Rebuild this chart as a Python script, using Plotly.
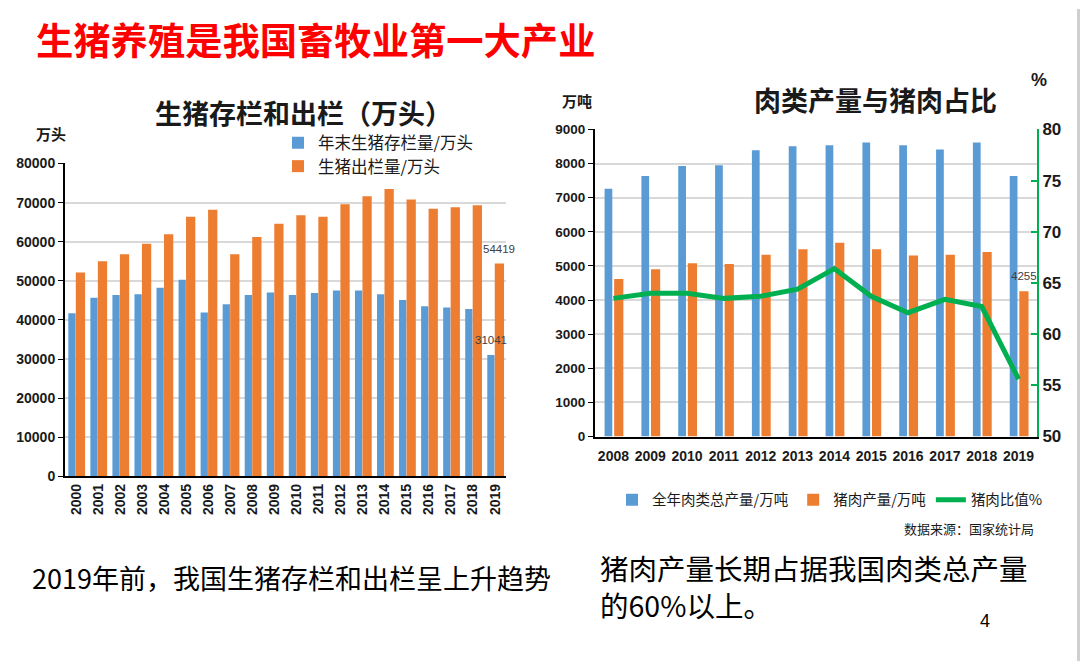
import plotly.graph_objects as go

# ---------------- data ----------------
years_a = ["2000", "2001", "2002", "2003", "2004", "2005", "2006", "2007", "2008", "2009",
           "2010", "2011", "2012", "2013", "2014", "2015", "2016", "2017", "2018", "2019"]
hog_stock = [41700, 45700, 46400, 46600, 48200, 50300, 41900, 44000, 46400, 47000,
             46400, 46900, 47500, 47500, 46600, 45100, 43500, 43200, 42800, 31041]
hog_slaughter = [52100, 55000, 56800, 59500, 61900, 66400, 68200, 56800, 61200, 64600,
                 66800, 66400, 69600, 71600, 73500, 70800, 68400, 68800, 69300, 54419]

years_b = ["2008", "2009", "2010", "2011", "2012", "2013", "2014", "2015", "2016", "2017", "2018", "2019"]
meat_total = [7260, 7640, 7930, 7950, 8390, 8510, 8540, 8620, 8540, 8410, 8620, 7640]
pork_output = [4620, 4900, 5080, 5060, 5330, 5490, 5680, 5490, 5310, 5330, 5410, 4255]
pork_share = [63.5, 64.0, 64.0, 63.5, 63.7, 64.4, 66.4, 63.7, 62.1, 63.4, 62.7, 55.6]

ticks_a = [0, 10000, 20000, 30000, 40000, 50000, 60000, 70000, 80000]
ticks_b = [0, 1000, 2000, 3000, 4000, 5000, 6000, 7000, 8000, 9000]
ticks_c = [50, 55, 60, 65, 70, 75, 80]

BLUE = "#5B9BD5"
ORANGE = "#ED7D31"
GREEN = "#00B050"
NUMF = "Liberation Sans, Arial, Noto Sans CJK SC"
CJK = "Noto Sans CJK SC, Liberation Sans"

W, H = 1080, 671
def px(x):
    return x / W
def py(y):
    return 1 - y / H

fig = go.Figure()

# ---------------- left chart: hog stock / slaughter ----------------
fig.add_trace(go.Bar(x=years_a, y=hog_stock, name="年末生猪存栏量/万头",
                     marker=dict(color=BLUE, line=dict(width=0)),
                     offset=-0.35, width=0.33, xaxis="x", yaxis="y", legend="legend"))
fig.add_trace(go.Bar(x=years_a, y=hog_slaughter, name="生猪出栏量/万头",
                     marker=dict(color=ORANGE, line=dict(width=0)),
                     offset=-0.01, width=0.42, xaxis="x", yaxis="y", legend="legend3"))

# ---------------- right chart: meat output and pork share ----------------
fig.add_trace(go.Bar(x=years_b, y=meat_total, name="全年肉类总产量/万吨",
                     marker=dict(color=BLUE, line=dict(width=0)),
                     offset=-0.24, width=0.21, xaxis="x2", yaxis="y2", legend="legend2"))
fig.add_trace(go.Bar(x=years_b, y=pork_output, name="猪肉产量/万吨",
                     marker=dict(color=ORANGE, line=dict(width=0)),
                     offset=0.02, width=0.25, xaxis="x2", yaxis="y2", legend="legend2"))
fig.add_trace(go.Scatter(x=years_b, y=pork_share, name="猪肉比值%", mode="lines",
                         line=dict(color=GREEN, width=5),
                         xaxis="x2", yaxis="y3", legend="legend2"))

axis_common = dict(showline=True, linecolor="#000000", linewidth=2, zeroline=False)
leg_common = dict(xanchor="left", yanchor="middle", orientation="v",
                  bgcolor="rgba(0,0,0,0)", borderwidth=0,
                  font=dict(family=CJK, size=16.5, color="#1a1a1a"))

fig.update_layout(
    width=W, height=H, autosize=False,
    margin=dict(l=0, r=0, t=0, b=0),
    paper_bgcolor="white", plot_bgcolor="white",
    barmode="overlay",
    xaxis=dict(domain=[px(65), px(506)], anchor="y", type="category",
               range=[-0.5, len(years_a) - 0.5],
               tickangle=-90, ticks="", showgrid=False,
               tickfont=dict(family=NUMF, size=14, color="#1a1a1a", weight="bold"),
               **axis_common),
    yaxis=dict(domain=[py(481), py(159)], anchor="x", range=[0, 80000],
               tickvals=ticks_a, tickformat="d", ticks="outside", ticklen=5, tickcolor="#000000",
               showgrid=True, gridcolor="#d9d9d9", gridwidth=1.5,
               tickfont=dict(family=NUMF, size=14, color="#1a1a1a", weight="bold"),
               **axis_common),
    xaxis2=dict(domain=[px(595), px(1037)], anchor="y2", type="category",
                range=[-0.5, len(years_b) - 0.5],
                ticks="", showgrid=False, ticklabelstandoff=6,
                tickfont=dict(family=NUMF, size=14, color="#1a1a1a", weight="bold"),
                **axis_common),
    yaxis2=dict(domain=[py(440), py(124)], anchor="x2", range=[0, 9000],
                tickvals=ticks_b, tickformat="d", ticks="outside", ticklen=5, tickcolor="#000000",
                showgrid=True, gridcolor="#d9d9d9", gridwidth=1.5,
                tickfont=dict(family=NUMF, size=13.5, color="#1a1a1a", weight="bold"),
                **axis_common),
    yaxis3=dict(overlaying="y2", anchor="x2", side="right", range=[50, 80],
                tickvals=ticks_c, ticks="inside", ticklen=6, tickcolor=GREEN, tickwidth=2,
                showgrid=False, showline=True, linecolor=GREEN, linewidth=2, zeroline=False,
                tickfont=dict(family=NUMF, size=17, color="#1a1a1a", weight="bold")),
    legend=dict(x=px(278), y=py(138), **leg_common),
    legend3=dict(x=px(278), y=py(162), **leg_common),
    legend2=dict(x=px(612), y=py(505), xanchor="left", yanchor="middle",
                 orientation="h", bgcolor="rgba(0,0,0,0)", borderwidth=0,
                 font=dict(family=CJK, size=14.5, color="#1a1a1a")),
    showlegend=True,
)

ann = []
def text(x, y, s, size, color="#000000", xanchor="center", bold=False, family=CJK, align="center"):
    ann.append(dict(x=px(x), y=py(y), xref="paper", yref="paper", text=s, showarrow=False,
                    xanchor=xanchor, yanchor="middle", align=align,
                    font=dict(family=family, size=size, color=color,
                              weight="bold" if bold else "normal")))

text(315, 31, "生猪养殖是我国畜牧业第一大产业", 37.3, color="#FF0000", bold=True)
text(303, 107, "生猪存栏和出栏（万头）", 27, color="#1a1a1a", bold=True)
text(51, 128, "万头", 15, color="#1a1a1a", bold=True)
text(875, 93, "肉类产量与猪肉占比", 27, color="#1a1a1a", bold=True)
text(577, 94, "万吨", 15, color="#1a1a1a", bold=True)
text(1039, 73, "%", 18, color="#1a1a1a", bold=True, family=NUMF)
text(1036, 535, "数据来源：国家统计局", 13, color="#1a1a1a", xanchor="right")
text(291, 585, "2019年前，我国生猪存栏和出栏呈上升趋势", 27, color="#000000")
text(814, 594, "猪肉产量长期占据我国肉类总产量<br>的60%以上。", 28.5, color="#000000", align="left")
text(985, 630, "4", 18, color="#000000", family=NUMF)

# value labels on the last bars (category index of the last year)
ia = len(years_a) - 1
ib = len(years_b) - 1
ann.append(dict(x=ia, y=hog_slaughter[ia], xref="x", yref="y",
                text=str(hog_slaughter[ia]), showarrow=False, yshift=15, xshift=4,
                font=dict(family=NUMF, size=11.5, color="#404040")))
ann.append(dict(x=ia, y=hog_stock[ia], xref="x", yref="y",
                text=str(hog_stock[ia]), showarrow=False, yshift=15, xshift=-4,
                font=dict(family=NUMF, size=11.5, color="#404040")))
ann.append(dict(x=ib, y=pork_output[ib], xref="x2", yref="y2",
                text=str(pork_output[ib]), showarrow=False, yshift=15, xshift=5,
                font=dict(family=NUMF, size=11.5, color="#404040")))

fig.update_layout(annotations=ann)

# thin grey strip at the right edge of the slide
fig.add_shape(type="rect", xref="paper", yref="paper", x0=px(1077), x1=1, y0=0, y1=1,
              line=dict(width=0), fillcolor="#cfcfcf", layer="above")

fig.write_html("out.html", config={"displayModeBar": False},
               post_script="document.body.style.margin='0';")
